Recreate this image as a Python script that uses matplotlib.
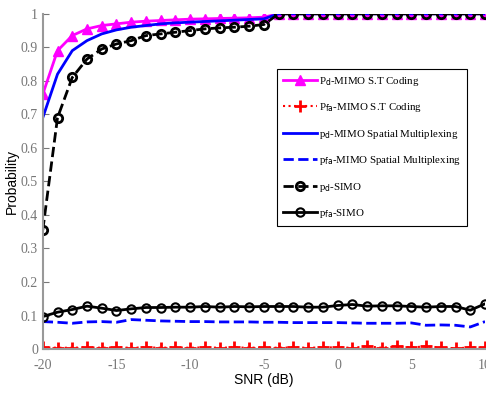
import numpy as np
import matplotlib.pyplot as plt

plt.rcParams['axes.unicode_minus'] = False

snr = np.arange(-20, 11)

pd_st = [0.76, 0.89, 0.935, 0.955, 0.965, 0.97, 0.975, 0.978, 0.98, 0.982,
         0.984, 0.985, 0.986, 0.987, 0.988, 0.99] + [1.0] * 15
pfa_st = [0.005, 0.004, 0.004, 0.005, 0.004, 0.005, 0.004, 0.005, 0.004, 0.005,
          0.004, 0.005, 0.004, 0.005, 0.004, 0.005, 0.004, 0.005, 0.004, 0.005,
          0.005, 0.004, 0.008, 0.004, 0.008, 0.005, 0.008, 0.005, 0.002, 0.005, 0.005]
pd_sm = [0.69, 0.82, 0.89, 0.92, 0.94, 0.952, 0.96, 0.965, 0.97, 0.973,
         0.975, 0.977, 0.979, 0.981, 0.983, 0.985] + [1.0] * 15
pfa_sm = [0.082, 0.08, 0.077, 0.081, 0.082, 0.08, 0.088, 0.086, 0.084, 0.083,
          0.082, 0.082, 0.081, 0.081, 0.081, 0.08, 0.08, 0.079, 0.079, 0.079,
          0.079, 0.078, 0.077, 0.077, 0.077, 0.078, 0.071, 0.072, 0.071, 0.066, 0.082]
pd_simo = [0.355, 0.69, 0.81, 0.865, 0.895, 0.91, 0.92, 0.935, 0.94, 0.945,
           0.95, 0.955, 0.958, 0.96, 0.963, 0.968] + [1.0] * 15
pfa_simo = [0.097, 0.11, 0.118, 0.128, 0.122, 0.115, 0.12, 0.124, 0.124, 0.125,
            0.125, 0.127, 0.125, 0.127, 0.126, 0.127, 0.127, 0.127, 0.125, 0.125,
            0.13, 0.133, 0.128, 0.129, 0.129, 0.127, 0.125, 0.127, 0.127, 0.116,
            0.135]

fig = plt.figure(figsize=(4.86, 3.94), dpi=100)
ax = fig.add_axes([0.088, 0.114, 0.91, 0.851])

ax.plot(snr, pd_st, color='#ff00ff', lw=2, marker='^', ms=7,
        label=r'P$_{\rm d}$-MIMO S.T Coding')
ax.plot(snr, pfa_st, color='red', lw=1.5, ls=':', marker='+', ms=9, mew=2,
        label=r'P$_{\rm fa}$-MIMO S.T Coding')
ax.plot(snr, pd_sm, color='#0000ff', lw=2,
        label=r'p$_{\rm d}$-MIMO Spatial Multiplexing')
ax.plot(snr, pfa_sm, color='#0000ff', lw=2, ls='--',
        label=r'p$_{\rm fa}$-MIMO Spatial Multiplexing')
ax.plot(snr, pd_simo, color='black', lw=2, ls='--', marker='o', ms=6,
        mfc='none', mew=2, label=r'p$_{\rm d}$-SIMO')
ax.plot(snr, pfa_simo, color='black', lw=2, marker='o', ms=6,
        mfc='none', mew=1.5, label=r'p$_{\rm fa}$-SIMO')

ax.set_xlim(-20, 10)
ax.set_ylim(0, 1)
ax.set_xticks([-20, -15, -10, -5, 0, 5, 10])
ax.set_yticks(np.arange(0, 1.01, 0.1))
ax.set_yticklabels(['0', '0.1', '0.2', '0.3', '0.4', '0.5', '0.6', '0.7',
                    '0.8', '0.9', '1'])
for lab in ax.get_xticklabels() + ax.get_yticklabels():
    lab.set_family('Liberation Serif')
ax.tick_params(direction='in', colors='#777777', labelsize=10, length=4)
ax.tick_params(axis='x', pad=7)
for s in ['top', 'right']:
    ax.spines[s].set_visible(False)
for s in ['left', 'bottom']:
    ax.spines[s].set_color('#999999')
    ax.spines[s].set_linewidth(1.5)

ax.set_xlabel('SNR (dB)', family='Liberation Sans', fontsize=10, labelpad=1)
ax.set_ylabel('Probability', family='Liberation Sans', fontsize=10, labelpad=1)

leg = ax.legend(loc='upper left', bbox_to_anchor=(0.53, 0.835),
                prop={'family': 'Liberation Serif', 'size': 7.8},
                fancybox=False, edgecolor='black', framealpha=1,
                handlelength=3.2, labelspacing=1.25, borderpad=0.5,
                handletextpad=0.2, borderaxespad=0)
leg.get_frame().set_linewidth(0.8)

plt.savefig('out.png')
